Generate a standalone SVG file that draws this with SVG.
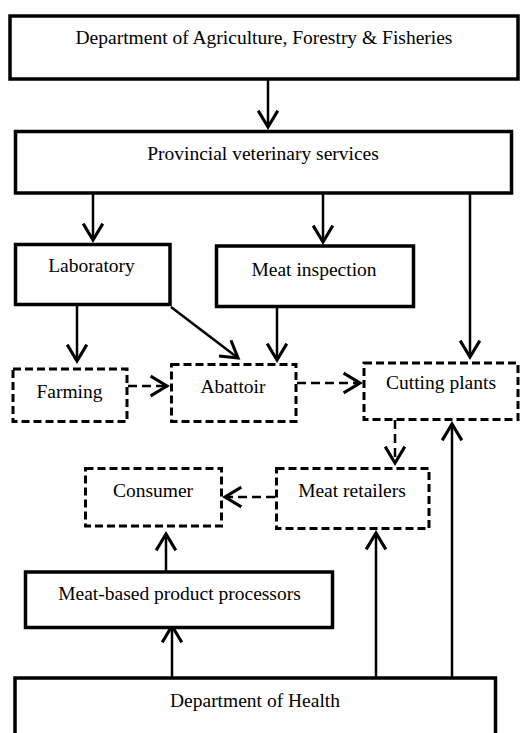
<svg xmlns="http://www.w3.org/2000/svg" width="520" height="733" viewBox="0 0 520 733">
<style>
.box{fill:#fff;stroke:#000;stroke-width:3.5}
.dbox{fill:#fff;stroke:#000;stroke-width:3;stroke-dasharray:8 4}
.t{font-family:"Liberation Serif","Times New Roman",serif;font-size:19.5px;fill:#000;text-anchor:middle}
.c{stroke:#000;stroke-width:2.5;fill:none;marker-end:url(#ah)}
.dc{stroke:#000;stroke-width:2.5;fill:none;stroke-dasharray:9 5;marker-end:url(#ah)}
</style>
<defs>
<marker id="ah" markerUnits="userSpaceOnUse" markerWidth="24" markerHeight="24" viewBox="-18 -11 20 22" refX="0" refY="0" orient="auto">
<path d="M-15,-9 L0,0 L-15,9" fill="none" stroke="#000" stroke-width="2.8"/>
</marker>
</defs>
<rect width="520" height="733" fill="#fff"/>
<g id="connectors">
<line class="c" x1="268" y1="79" x2="268" y2="127"/>
<line class="c" x1="93" y1="193" x2="93" y2="240"/>
<line class="c" x1="323" y1="193" x2="323" y2="242"/>
<line class="c" x1="470" y1="193" x2="470" y2="357"/>
<line class="c" x1="77" y1="306" x2="77" y2="361"/>
<line class="c" x1="171" y1="307" x2="238" y2="358"/>
<line class="c" x1="277" y1="307" x2="277" y2="360"/>
<line class="dc" x1="128" y1="386" x2="167" y2="386"/>
<line class="dc" x1="297" y1="383" x2="360" y2="383"/>
<line class="dc" x1="395" y1="420" x2="395" y2="463"/>
<line class="dc" x1="275" y1="497" x2="225" y2="497"/>
<line class="c" x1="452" y1="678" x2="452" y2="424"/>
<line class="c" x1="376" y1="678" x2="376" y2="533"/>
<line class="c" x1="166" y1="572" x2="166" y2="534"/>
<line class="c" x1="172" y1="678" x2="172" y2="626"/>
</g>
<g id="daff"><rect class="box" x="10" y="16" width="508" height="63"/><text class="t" x="264" y="44">Department of Agriculture, Forestry &amp; Fisheries</text></g>
<g id="pvs"><rect class="box" x="15.5" y="131.5" width="496" height="61.5"/><text class="t" x="263" y="160">Provincial veterinary services</text></g>
<g id="laboratory"><rect class="box" x="15.5" y="244.5" width="154.5" height="60"/><text class="t" x="91.5" y="272">Laboratory</text></g>
<g id="meat-inspection"><rect class="box" x="216.5" y="246" width="197" height="60.5"/><text class="t" x="314" y="276">Meat inspection</text></g>
<g id="farming"><rect class="dbox" x="13" y="369" width="114" height="52.5"/><text class="t" x="69.5" y="398">Farming</text></g>
<g id="abattoir"><rect class="dbox" x="171.5" y="364.5" width="124.5" height="57"/><text class="t" x="233" y="393">Abattoir</text></g>
<g id="cutting-plants"><rect class="dbox" x="364" y="363" width="154" height="56.5"/><text class="t" x="441" y="389">Cutting plants</text></g>
<g id="meat-retailers"><rect class="dbox" x="276.5" y="468.5" width="152.5" height="60"/><text class="t" x="352" y="497">Meat retailers</text></g>
<g id="consumer"><rect class="dbox" x="85.5" y="468.5" width="136" height="57.5"/><text class="t" x="153" y="497">Consumer</text></g>
<g id="mbpp"><rect class="box" x="25.5" y="572" width="307" height="55.5"/><text class="t" x="179.5" y="600">Meat-based product processors</text></g>
<g id="doh"><rect class="box" x="15" y="678" width="480.5" height="70"/><text class="t" x="255" y="707">Department of Health</text></g>
</svg>
